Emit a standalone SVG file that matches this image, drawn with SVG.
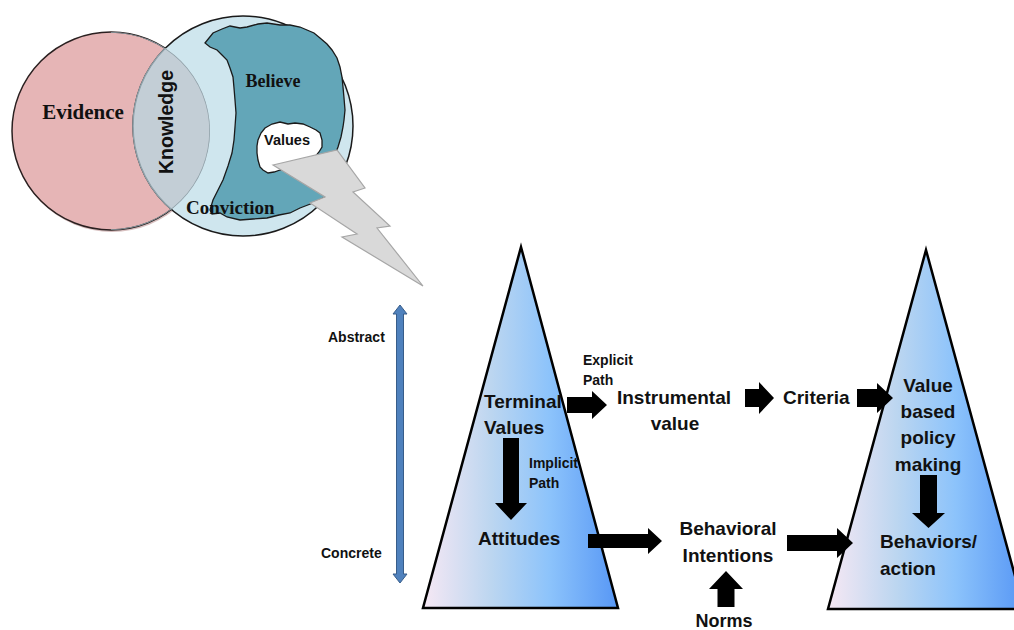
<svg xmlns="http://www.w3.org/2000/svg" width="1014" height="630" viewBox="0 0 1014 630">
<defs>
<style>
.serif{font-family:"Liberation Serif","Times New Roman",serif;font-weight:bold;fill:#111}
.sans{font-family:"Liberation Sans",Arial,sans-serif;font-weight:bold;fill:#111}
.big{font-size:19px}
.small{font-size:14px}
.blk{fill:#000;stroke:none}
.tri{stroke:#000;stroke-width:2.5;stroke-linejoin:miter}
</style>
<linearGradient id="triGrad" x1="0" y1="0" x2="1" y2="0">
<stop offset="0" stop-color="#f6e8f4"/>
<stop offset="0.35" stop-color="#bcd6f0"/>
<stop offset="0.65" stop-color="#8cc3fb"/>
<stop offset="1" stop-color="#5797f5"/>
</linearGradient>
<clipPath id="pinkClip"><circle cx="111" cy="131" r="99"/></clipPath>
</defs>

<g id="evidence">
<circle cx="112" cy="133" r="99" fill="#b08080" opacity="0.5"/>
<circle cx="111" cy="131" r="99" fill="#e6b5b6" stroke="#2a2020" stroke-width="1.5"/>
<text class="serif" x="83" y="119" font-size="21" text-anchor="middle">Evidence</text>
</g>

<g id="conviction">
<circle cx="243" cy="126" r="110" fill="#cfe6ee" stroke="#1a1a1a" stroke-width="1.5"/>
<circle cx="243" cy="126" r="110" fill="#c3ced6" stroke="#8fa0a8" stroke-width="1.5" clip-path="url(#pinkClip)"/>
<path d="M111,32 A99,99 0 0 1 111,230" fill="none" stroke="#8fa0a8" stroke-width="1.5" clip-path="url(#pinkClip)"/>
<path d="M205,43 L213,33 L222,29 L230,26 L240,28 L247,27 L258,24 L267,23 L280,25 L290,25 L300,27 L307,30 L314,33 L320,38 L327,44 L332,50 L337,58 L340,67 L342,77 L343,87 L344,98 L345,110 L344,120 L343,127 L341,137 L338,147 L333,160 L329,178 L325,197 L313,203 L300,208 L290,213 L279,215 L267,218 L253,219 L240,220 L227,217 L220,213 L212,214 L210,210 L213,200 L218,190 L223,180 L228,166 L232,153 L234,140 L235,127 L236,113 L235,100 L234,88 L233,77 L230,68 L227,60 L222,55 L217,50 L210,47 Z" fill="#63a6b8" stroke="#1a1a1a" stroke-width="1.3"/>
<path d="M265,128 L272,124 L280,122 L288,124 L295,123 L303,124 L310,127 L316,130 L320,133 L322,140 L322,147 L319,152 L315,157 L305,162 L295,166 L288,168 L280,170 L274,172 L268,173 L263,170 L260,167 L258,160 L257,153 L257,146 L258,140 L261,133 Z" fill="#ffffff" stroke="#1a1a1a" stroke-width="1.3"/>
<text class="serif" x="273" y="87" font-size="18" text-anchor="middle">Believe</text>
<text class="sans" x="287" y="145" font-size="14.5" text-anchor="middle">Values</text>
<text class="serif" x="186" y="214" font-size="19">Conviction</text>
<text class="sans" transform="translate(173,122) rotate(-90)" font-size="19.5" text-anchor="middle">Knowledge</text>
</g>

<g id="lightning">
<polygon points="273,165 337,150 365,188 353,192 390,226 377,228 423,286 342,237 357,234 310,203 325,197" fill="#d9d9d9" stroke="#a6a6a6" stroke-width="1.2" stroke-linejoin="miter"/>
</g>

<g id="scale">
<polygon points="400,305 407,314 403.5,314 403.5,574 407,574 400,583 393,574 396.5,574 396.5,314 393,314" fill="#4f81bd" stroke="#385d8a" stroke-width="1"/>
<text class="sans small" x="328" y="342">Abstract</text>
<text class="sans small" x="321" y="558">Concrete</text>
</g>

<g id="left-triangle">
<polygon class="tri" points="521,247 618,608 423,608" fill="url(#triGrad)"/>
<text class="sans big" x="484" y="408">Terminal</text>
<text class="sans big" x="484" y="434">Values</text>
<text class="sans big" x="478" y="545">Attitudes</text>
</g>

<g id="right-triangle">
<polygon class="tri" points="926,250 1024,609 828,609" fill="url(#triGrad)"/>
<text class="sans big" text-anchor="middle" x="928" y="392">Value</text>
<text class="sans big" text-anchor="middle" x="928" y="418">based</text>
<text class="sans big" text-anchor="middle" x="928" y="444">policy</text>
<text class="sans big" text-anchor="middle" x="928" y="471">making</text>
<text class="sans big" x="880" y="548">Behaviors/</text>
<text class="sans big" x="880" y="575">action</text>
</g>

<g id="instrumental">
<text class="sans big" text-anchor="middle" x="674" y="404">Instrumental</text>
<text class="sans big" text-anchor="middle" x="675" y="430">value</text>
</g>

<g id="criteria">
<text class="sans big" x="783" y="404">Criteria</text>
</g>

<g id="behavioral">
<text class="sans big" text-anchor="middle" x="728" y="535">Behavioral</text>
<text class="sans big" text-anchor="middle" x="728" y="562">Intentions</text>
</g>

<g id="norms">
<text class="sans" font-size="18" text-anchor="middle" x="724" y="627">Norms</text>
</g>

<g id="connectors">
<polygon class="blk" points="567,397 592,397 592,391 607,405 592,419 592,413 567,413"/>
<polygon class="blk" points="745,389 759,389 759,382 774,398 759,414 759,407 745,407"/>
<polygon class="blk" points="857,389 877,389 877,383 893,398 877,413 877,407 857,407"/>
<polygon class="blk" points="588,534 648,534 648,528 662,541 648,554 648,548 588,548"/>
<polygon class="blk" points="787,535 837,535 837,528 853,543 837,558 837,551 787,551"/>
<polygon class="blk" points="503,438 519,438 519,503 527,503 511,520 495,503 503,503"/>
<polygon class="blk" points="920,475 937,475 937,513 945,513 928.5,528 912,513 920,513"/>
<polygon class="blk" points="717.5,607 734.5,607 734.5,589 743,589 726,571 709,589 717.5,589"/>
<text class="sans small" x="583" y="365">Explicit</text>
<text class="sans small" x="583" y="385">Path</text>
<text class="sans small" x="529" y="468">Implicit</text>
<text class="sans small" x="529" y="488">Path</text>
</g>
</svg>
